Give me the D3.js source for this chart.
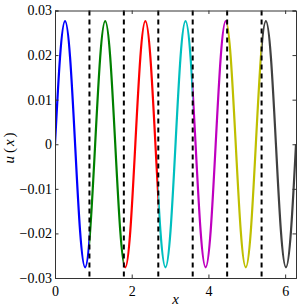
<!DOCTYPE html>
<html>
<head>
<meta charset="utf-8">
<script src="https://cdn.jsdelivr.net/npm/d3@7"></script>
<style>
  body { margin: 0; background: #fff; }
  svg text { font-family: "Liberation Serif", "Times New Roman", Times, "DejaVu Serif", serif !important; }
</style>
</head>
<body>
<div id="chart"></div>
<script>
// curve samples (x, u)
var xs = [0, 0.131, 0.262, 0.393, 0.524, 0.654, 0.785, 0.916, 1.047, 1.178, 1.309, 1.440,
  1.571, 1.702, 1.833, 1.963, 2.094, 2.225, 2.356, 2.487, 2.618, 2.749, 2.880, 3.011,
  3.142, 3.272, 3.403, 3.534, 3.665, 3.796, 3.927, 4.058, 4.189, 4.320, 4.451, 4.581,
  4.712, 4.843, 4.974, 5.105, 5.236, 5.367, 5.498, 5.629, 5.760, 5.890, 6.021, 6.152, 6.283];
var us = [0, 0.0195, 0.0276, 0.0195, 0, -0.0195, -0.0276, -0.0195,
  0, 0.0195, 0.0276, 0.0195, 0, -0.0195, -0.0276, -0.0195,
  0, 0.0195, 0.0276, 0.0195, 0, -0.0195, -0.0276, -0.0195,
  0, 0.0195, 0.0276, 0.0195, 0, -0.0195, -0.0276, -0.0195,
  0, 0.0195, 0.0276, 0.0195, 0, -0.0195, -0.0276, -0.0195,
  0, 0.0195, 0.0276, 0.0195, 0, -0.0195, -0.0276, -0.0195, 0];

// element boundaries (dashed lines) and segment colours
var bounds = [0, 0.898, 1.795, 2.693, 3.590, 4.488, 5.386, 6.283];
var segColors = ["#0000ff", "#008000", "#ff0000", "#00bfbf", "#bf00bf", "#bfbf00", "#404040"];

var xTicks = [0, 2, 4, 6];
var yTicks = [-0.03, -0.02, -0.01, 0, 0.01, 0.02, 0.03];

var svgWidth = 301;
var svgHeight = 307;
var serif = "'Liberation Serif', 'Times New Roman', Times, 'DejaVu Serif', serif";

var svg = d3.select("#chart")
  .append("svg")
  .attr("width", svgWidth)
  .attr("height", svgHeight);

var xScale = d3.scaleLinear().domain([0, 6.283]).range([55, 296]);
var yScale = d3.scaleLinear().domain([-0.03, 0.03]).range([278, 10.5]);

var pts = xs.map(function(x, i) { return [x, us[i]]; });

var line = d3.line()
  .x(d => xScale(d[0]))
  .y(d => yScale(d[1]))
  .curve(d3.curveNatural);

// one clipped copy of the curve per element
var defs = svg.append("defs");
segColors.forEach(function(c, i) {
  defs.append("clipPath")
    .attr("id", "seg" + i)
    .append("rect")
    .attr("x", xScale(bounds[i]))
    .attr("y", 0)
    .attr("width", xScale(bounds[i + 1]) - xScale(bounds[i]))
    .attr("height", svgHeight);
  svg.append("path")
    .datum(pts)
    .attr("clip-path", "url(#seg" + i + ")")
    .attr("fill", "none")
    .attr("stroke", c)
    .attr("stroke-width", 2.2)
    .attr("d", line);
});

// dashed element boundaries
svg.selectAll(".bnd")
  .data(bounds.slice(1, 7))
  .enter()
  .append("line")
  .attr("x1", d => xScale(d))
  .attr("x2", d => xScale(d))
  .attr("y1", yScale(0.03))
  .attr("y2", yScale(-0.03))
  .attr("stroke", "#000")
  .attr("stroke-width", 2)
  .attr("stroke-dasharray", "5,4");

// axes, ticks inward on all four sides
var axisColor = "#333";
var fmt = d => d === 0 ? "0" : d3.format(".2f")(d);

var gBottom = svg.append("g")
  .attr("transform", `translate(0, ${yScale(-0.03)})`)
  .call(d3.axisBottom(xScale).tickValues(xTicks).tickSize(-3.5).tickPadding(8).tickFormat(d3.format("d")));
var gTop = svg.append("g")
  .attr("transform", `translate(0, ${yScale(0.03)})`)
  .call(d3.axisTop(xScale).tickValues(xTicks).tickSize(-3.5).tickFormat(""));
var gLeft = svg.append("g")
  .attr("transform", `translate(${xScale(0)}, 0)`)
  .call(d3.axisLeft(yScale).tickValues(yTicks).tickSize(-3.5).tickPadding(3).tickFormat(fmt));
var gRight = svg.append("g")
  .attr("transform", `translate(${xScale(6.283)}, 0)`)
  .call(d3.axisRight(yScale).tickValues(yTicks).tickSize(-3.5).tickFormat(""));

[gBottom, gTop, gLeft, gRight].forEach(function(g) {
  g.attr("font-family", serif).attr("font-size", 14);
  g.select(".domain").attr("stroke", axisColor);
  g.selectAll(".tick line").attr("stroke", axisColor);
  g.selectAll("text").attr("fill", "#000");
});

// axis labels (math style, loosely spaced)
var ylab = svg.append("text")
  .attr("transform", "translate(14, 148) rotate(-90)")
  .attr("text-anchor", "middle")
  .attr("font-family", serif)
  .attr("font-size", 15);
ylab.append("tspan").attr("font-style", "italic").text("u");
ylab.append("tspan").attr("dx", 3).text("(");
ylab.append("tspan").attr("dx", 2).attr("font-style", "italic").text("x");
ylab.append("tspan").attr("dx", 2).text(")");

svg.append("text")
  .attr("x", (xScale(0) + xScale(6.283)) / 2)
  .attr("y", 304)
  .attr("text-anchor", "middle")
  .attr("font-style", "italic")
  .attr("font-family", serif)
  .attr("font-size", 15)
  .text("x");
</script>
</body>
</html>
